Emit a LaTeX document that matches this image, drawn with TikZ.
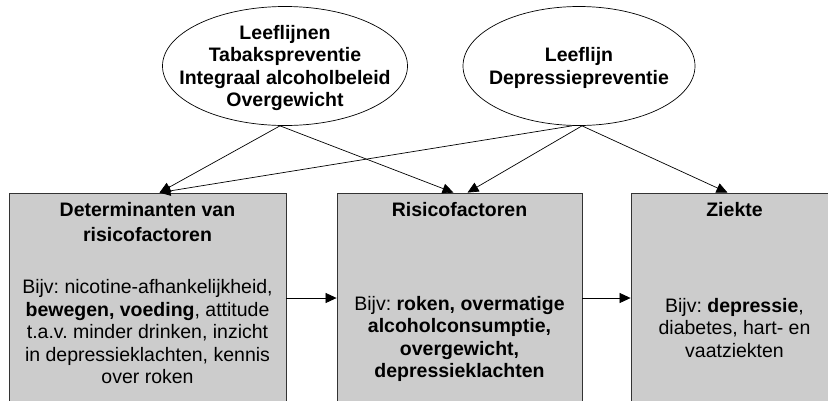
\documentclass[tikz,border=0pt]{standalone}
\usepackage{fontspec}
\setmainfont{Liberation Sans}
\frenchspacing
\usetikzlibrary{shapes.geometric,arrows.meta}

\begin{document}
\begin{tikzpicture}[x=1pt,y=-1pt,
leeflijn/.style={ellipse,draw,line width=0.7pt,fill=white,inner sep=0pt},
blok/.style={rectangle,draw=black!80,line width=0.8pt,fill=black!20,minimum width=#1,minimum height=210pt,inner sep=0pt},
tekst/.style={align=center,inner sep=0pt,font=\fontsize{19.5}{22.5}\selectfont},
kop/.style={tekst,font=\fontsize{19.5}{22.5}\selectfont\bfseries},
pijl/.style={-{Triangle[length=11pt,width=10pt]},line width=0.7pt}]
\useasboundingbox (0,0) rectangle (828,400);
\node[leeflijn,minimum width=245pt,minimum height=119pt] (l1) at (285,66) {};
\node[kop] (t1) at ([yshift=-2pt]l1.center) {Leeflijnen\\Tabakspreventie\\Integraal alcoholbeleid\\Overgewicht};
\node[leeflijn,minimum width=232pt,minimum height=119pt] (l2) at (579,66) {};
\node[kop] (t2) at ([yshift=-2pt]l2.center) {Leeflijn\\Depressiepreventie};
\node[blok=277pt] (b1) at (147.5,298) {};
\node[blok=245pt] (b2) at (459.5,298) {};
\node[blok=207pt] (b3) at (734.5,298) {};
\node[kop,anchor=north] (k1) at ([yshift=-10pt]b1.north) {Determinanten van\\[2pt]risicofactoren};
\node[kop,anchor=north] (k2) at ([yshift=-10pt]b2.north) {Risicofactoren};
\node[kop,anchor=north] (k3) at ([yshift=-10pt]b3.north) {Ziekte};
\node[tekst] (i1) at (147.5,332) {Bijv: nicotine-afhankelijkheid,\\\textbf{bewegen, voeding}, attitude\\t.a.v. minder drinken, inzicht\\in depressieklachten, kennis\\over roken};
\node[tekst] (i2) at (459.5,339) {Bijv: \textbf{roken, overmatige}\\\textbf{alcoholconsumptie,}\\\textbf{overgewicht,}\\\textbf{depressieklachten}};
\node[tekst] (i3) at (734.5,328) {Bijv: \textbf{depressie},\\diabetes, hart- en\\vaatziekten};
\draw[pijl] ([xshift=-5pt]l1.south) -- ([xshift=12pt]b1.north);
\draw[pijl] ([xshift=-5pt]l1.south) -- ([xshift=-6pt]b2.north);
\draw[pijl] ([xshift=-7pt]l2.south) -- ([xshift=12pt]b1.north);
\draw[pijl] ([xshift=3pt]l2.south) -- ([xshift=8pt]b2.north);
\draw[pijl] ([xshift=3pt]l2.south) -- ([xshift=-7pt]b3.north);
\draw[pijl] (b1.east) -- (b2.west);
\draw[pijl] (b2.east) -- (b3.west);
\end{tikzpicture}
\end{document}
